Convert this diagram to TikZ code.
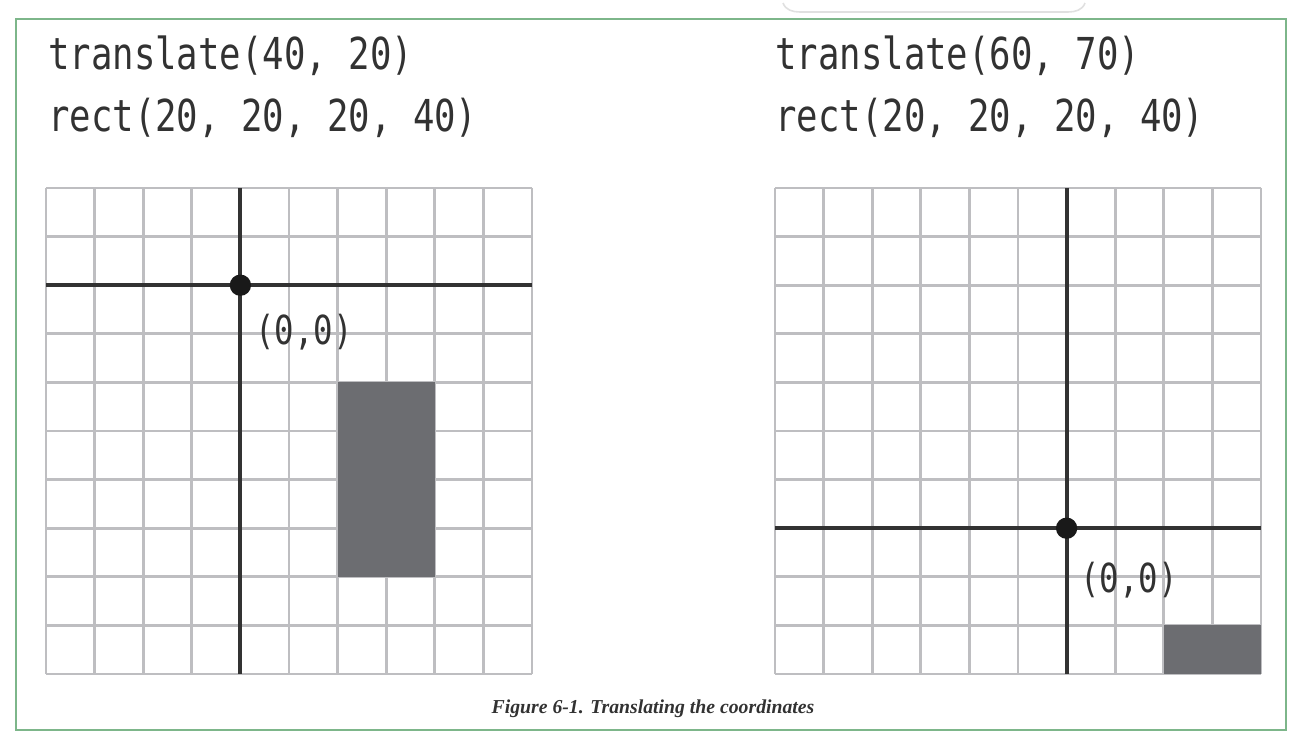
\documentclass[tikz,border=0pt]{standalone}
\usepackage{fontspec}
\setmainfont{Liberation Serif}
\newfontfamily\codefont[FakeStretch=0.81]{DejaVu Sans Mono}
\definecolor{framegreen}{RGB}{125,182,138}
\definecolor{gridgray}{RGB}{190,190,193}
\definecolor{boxgray}{RGB}{108,109,113}
\definecolor{inkgray}{RGB}{50,50,50}

\begin{document}
\begin{tikzpicture}[x=0.75pt, y=-0.75pt,
  gridline/.style={gridgray, line width=2.2pt},
  axisline/.style={inkgray, line width=3pt},
  code/.style={anchor=base west, inner sep=0pt, text=inkgray, font=\codefont\fontsize{33}{38}\selectfont},
  origintext/.style={anchor=base west, inner sep=0pt, text=inkgray, font=\codefont\fontsize{30}{34}\selectfont},
  origindot/.style={circle, fill=black!90, inner sep=0pt, minimum size=16pt},
  caption/.style={anchor=base, inner sep=0pt, text=inkgray, font=\fontsize{14.8}{17}\selectfont\bfseries\itshape}]
\useasboundingbox (0,0) rectangle (1302,752);
\draw[black!12, line width=1.2pt] (783,3) to[out=-70, in=180] (800,12) -- (1068,12) to[out=0, in=-110] (1085,3);
\draw[framegreen, line width=2.2pt] (16,19) rectangle (1286,730);
% left panel
\node[code] (leftmove) at (48,70) {translate(40, 20)};
\node[code] (leftrect) at (48,132) {rect(20, 20, 20, 40)};
\foreach \i in {0,...,10} {
  \draw[gridline] (46+48.6*\i,188) -- (46+48.6*\i,674);
  \draw[gridline] (46,188+48.6*\i) -- (532,188+48.6*\i);
}
\fill[boxgray] (337.6,382.4) rectangle (434.8,576.8);
\draw[axisline] (240.4,188) -- (240.4,674);
\draw[axisline] (46,285.2) -- (532,285.2);
\node[origindot] (leftorigin) at (240.4,285.2) {};
\node[origintext] (leftlabel) at (255,344) {(0,0)};
% right panel
\node[code] (rightmove) at (775,70) {translate(60, 70)};
\node[code] (rightrect) at (775,132) {rect(20, 20, 20, 40)};
\foreach \i in {0,...,10} {
  \draw[gridline] (775+48.6*\i,188) -- (775+48.6*\i,674);
  \draw[gridline] (775,188+48.6*\i) -- (1261,188+48.6*\i);
}
\fill[boxgray] (1163.8,625.4) rectangle (1261,674);
\draw[axisline] (1066.6,188) -- (1066.6,674);
\draw[axisline] (775,528.2) -- (1261,528.2);
\node[origindot] (rightorigin) at (1066.6,528.2) {};
\node[origintext] (rightlabel) at (1080,592) {(0,0)};
% caption
\node[caption] (figcaption) at (653,713) {Figure 6-1. Translating the coordinates};
\end{tikzpicture}
\end{document}
